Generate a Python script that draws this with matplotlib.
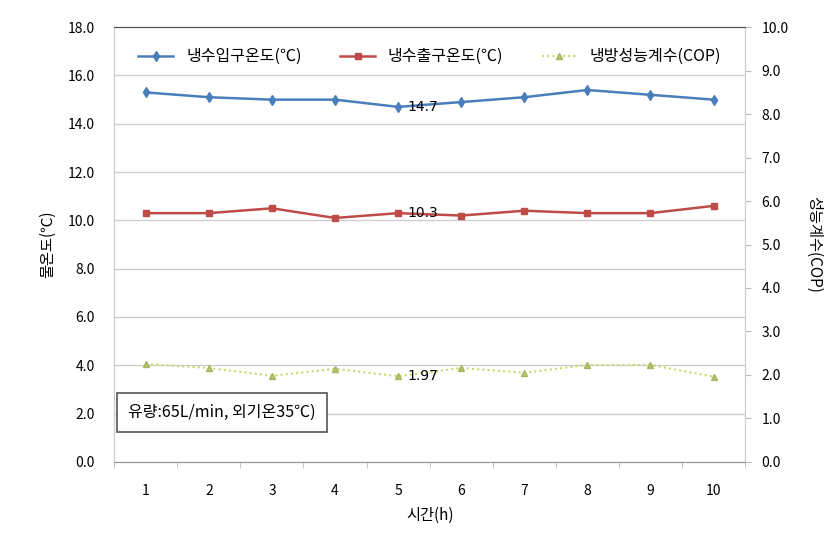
import matplotlib.pyplot as plt
import numpy as np

plt.rcParams['font.family'] = ['Noto Sans CJK KR', 'DejaVu Sans']

# -- Data
hours = [1, 2, 3, 4, 5, 6, 7, 8, 9, 10]
inlet_temp = [15.3, 15.1, 15.0, 15.0, 14.7, 14.9, 15.1, 15.4, 15.2, 15.0]
outlet_temp = [10.3, 10.3, 10.5, 10.1, 10.3, 10.2, 10.4, 10.3, 10.3, 10.6]
cop = [2.25, 2.16, 1.98, 2.14, 1.97, 2.16, 2.05, 2.23, 2.23, 1.96]

BLUE = "#4a7ebb"
RED = "#be4b48"
GREEN = "#c9d86a"

fig = plt.figure(figsize=(8.4, 5.44), dpi=100)
ax = fig.add_axes([0.136, 0.151, 0.751, 0.799])
ax2 = ax.twinx()

x = np.arange(len(hours))

l1, = ax.plot(x, inlet_temp, color=BLUE, lw=1.8, marker="d",
              markersize=5, label="냉수입구온도(℃)")
l2, = ax.plot(x, outlet_temp, color=RED, lw=1.8, marker="s",
              markersize=5, label="냉수출구온도(℃)")
l3, = ax2.plot(x, cop, color=GREEN, lw=1.5, ls=(0, (1, 1.5)),
               marker="^", markersize=5, markerfacecolor="#b9c46a",
               markeredgecolor="#a8b560", label="냉방성능계수(COP)")

ax.set_xlim(-0.5, len(hours) - 0.5)
ax.set_ylim(0, 18)
ax2.set_ylim(0, 10)
ax.set_yticks(np.arange(0, 18.1, 2))
ax.set_yticklabels([f"{v:.1f}" for v in np.arange(0, 18.1, 2)])
ax2.set_yticks(np.arange(0, 10.1, 1))
ax2.set_yticklabels([f"{v:.1f}" for v in np.arange(0, 10.1, 1)])
ax.set_xticks(x)
ax.set_xticklabels([str(h) for h in hours])
ax.set_xticks(np.arange(-0.5, len(hours), 1), minor=True)
ax.tick_params(axis="x", which="major", length=0, pad=16, labelsize=10)
ax.tick_params(axis="x", which="minor", length=4, color="#bbbbbb")
ax.tick_params(axis="y", length=0, pad=14, labelsize=10)
ax2.tick_params(axis="y", length=4, color="#bbbbbb", pad=8, labelsize=10)

ax.grid(axis="y", color="#cccccc", lw=0.9)
ax.set_axisbelow(True)
for a in (ax, ax2):
    a.spines["left"].set_color("#cccccc")
    a.spines["right"].set_color("#cccccc")
    a.spines["bottom"].set_color("#999999")
    a.spines["top"].set_color("#555555")

ax.set_xlabel("시간(h)", fontsize=11, labelpad=6)
ax.set_ylabel("물온도(℃)", fontsize=11, labelpad=8)
ax2.set_ylabel("성능계수(COP)", fontsize=11, rotation=270, labelpad=24)

# data labels at hour 5
ax.text(x[4] + 0.15, inlet_temp[4], f"{inlet_temp[4]:.1f}",
        va="center", ha="left", fontsize=10, family="DejaVu Sans")
ax.text(x[4] + 0.15, outlet_temp[4], f"{outlet_temp[4]:.1f}",
        va="center", ha="left", fontsize=10, family="DejaVu Sans")
ax2.text(x[4] + 0.15, cop[4], f"{cop[4]:.2f}",
         va="center", ha="left", fontsize=10, family="DejaVu Sans")

ax.legend(handles=[l1, l2, l3], loc="upper center", ncol=3, frameon=False,
          fontsize=11.5, bbox_to_anchor=(0.5, 0.985), columnspacing=2.4,
          handlelength=2.2)

ax.text(0.022, 0.113, "유량:65L/min, 외기온35℃)", transform=ax.transAxes,
        fontsize=11.5, va="center", ha="left",
        bbox=dict(boxstyle="square,pad=0.7", fc="white", ec="#555555", lw=1.2))

fig.savefig("out.png", dpi=100)
